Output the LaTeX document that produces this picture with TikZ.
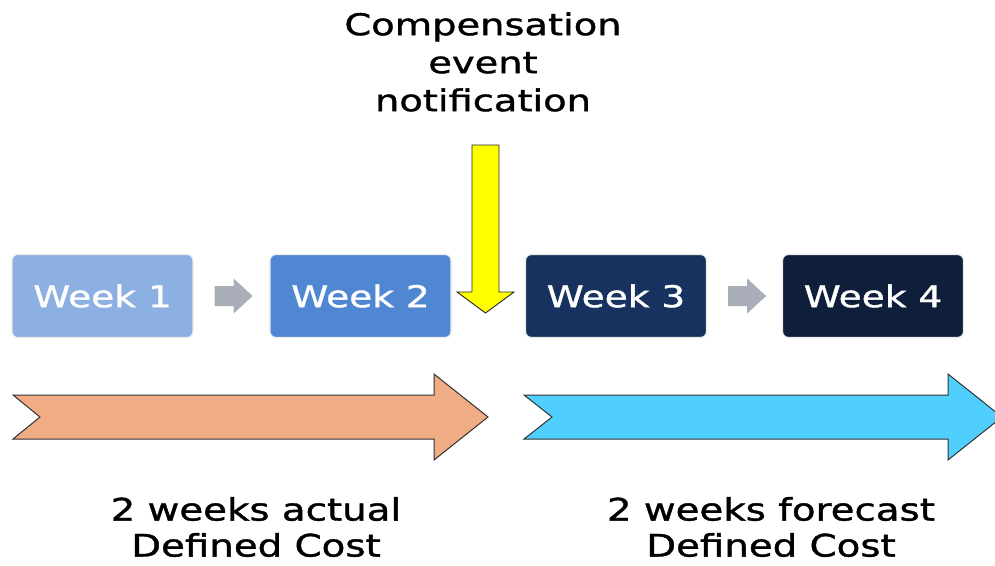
\documentclass[tikz,border=0pt]{standalone}
\usepackage{fontspec}
\setmainfont{DejaVu Sans}
\newfontfamily\widefont[FakeStretch=1.25,FakeBold=1.2]{DejaVu Sans}
\newfontfamily\capfont[FakeStretch=1.28,FakeBold=1.2]{DejaVu Sans}

\definecolor{wkA}{HTML}{8DB0E3}
\definecolor{wkB}{HTML}{4F87D2}
\definecolor{wkC}{HTML}{17325E}
\definecolor{wkD}{HTML}{0F1F3B}
\definecolor{stepgrey}{HTML}{A9AEB8}
\definecolor{actualfill}{HTML}{F0AC84}
\definecolor{forecastfill}{HTML}{50CFFF}
\definecolor{notefill}{HTML}{FFFF00}

\tikzset{
  weekbox/.style={rounded corners=6pt, minimum width=181pt, minimum height=83pt,
    draw=black!8, line width=1.2pt, text=white,
    font=\widefont\fontsize{30}{36}\selectfont, inner sep=0pt},
  bandarrow/.style={draw=black!80, line width=1pt, line join=miter},
  caption/.style={align=center, text=black, inner sep=0pt}
}

\begin{document}
\begin{tikzpicture}[x=1pt, y=-1pt]
  \useasboundingbox (0,0) rectangle (995,565);
  \fill[white] (0,0) rectangle (995,565);

  % the four week boxes
  \node[weekbox, fill=wkA] (w1) at (102.5,296) {Week 1};
  \node[weekbox, fill=wkB] (w2) at (360.5,296) {Week 2};
  \node[weekbox, fill=wkC] (w3) at (616,296) {Week 3};
  \node[weekbox, fill=wkD] (w4) at (873,296) {Week 4};

  % grey step arrows between weeks: shaft 20 high, head 35 high
  \foreach \a in {w1,w3}{
    \fill[stepgrey] (\a.east) ++(21,-10) -- ++(19,0) -- ++(0,-7.5)
      -- ++(19,17.5) -- ++(-19,17.5) -- ++(0,-7.5) -- ++(-19,0) -- cycle;
  }

  % notification label and yellow arrow
  \node[caption, font=\capfont\fontsize{30}{38}\selectfont] (note) at (483,62)
    {Compensation\\event\\notification};
  \coordinate (tip) at (485.5,313);
  \draw[fill=notefill, draw=black!85, line width=0.9pt, line join=miter]
    (tip) ++(-13.5,-168) -- ++(27,0) -- ++(0,147)
    -- ++(15,0) -- (tip) -- ++(-28.5,-21) -- ++(15,0) -- cycle;

  % actual cost band
  \draw[bandarrow, fill=actualfill]
    (13,395) -- (434,395) -- (434,374) -- (488,417) -- (434,460) -- (434,439)
    -- (13,439) -- (40,417) -- cycle;

  % forecast cost band (runs off the right edge)
  \begin{scope}
    \clip (0,0) rectangle (995,565);
    \draw[bandarrow, fill=forecastfill]
      (524,395) -- (948,395) -- (948,374) -- (1002,417) -- (948,460) -- (948,439)
      -- (524,439) -- (552,417) -- cycle;
  \end{scope}

  % captions under the bands
  \node[caption, font=\widefont\fontsize{31}{36}\selectfont] (actual) at (256,527)
    {2 weeks actual\\Defined Cost};
  \node[caption, font=\widefont\fontsize{31}{36}\selectfont] (forecast) at (771,527)
    {2 weeks forecast\\Defined Cost};
\end{tikzpicture}
\end{document}
